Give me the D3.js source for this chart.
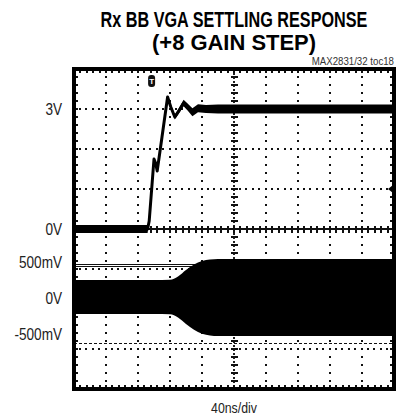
<!DOCTYPE html>
<html lang="en">
<head>
    <meta charset="UTF-8">
    <title>Rx BB VGA Settling Response</title>
    <script src="https://d3js.org/d3.v7.min.js"></script>
    <style>
        body {margin: 0; background: white;}
        text {font-family: "Liberation Sans", Arial, sans-serif; fill: black;}
        .title {font-weight: bold; font-size: 22px;}
        .lbl {font-size: 16px; fill: #222;}
        .crisp {shape-rendering: crispEdges;}
    </style>
</head>
<body>
<div id="chart"></div>
<script>

    // channel 1 (top trace): time in ns, volts, noise half width in volts
    var ch1Time  = [0,   60,  92,  94,  100, 102, 104, 110, 117, 121, 126, 131, 137, 142, 148, 155, 165, 180, 400];
    var ch1Volt  = [0.0, 0.0, 0.0, 0.2, 1.75,1.65,1.45,2.3, 3.3, 3.05,2.8, 2.95,3.15,3.05,2.92,3.02,3.0, 3.0, 3.0];
    var ch1Noise = [0.1, 0.1, 0.1, 0.02,0.02,0.02,0.02,0.02,0.04,0.05,0.06,0.07,0.08,0.09,0.1, 0.1, 0.1, 0.11,0.11];

    // channel 2 (bottom trace): envelope of the baseband signal in mV
    var ch2Time  = [0,    100,  120,  130,  140,  150,  160,  170,  180,  400];
    var ch2Upper = [250,  250,  255,  300,  390,  465,  515,  535,  542,  542];
    var ch2Lower = [-222, -222, -225, -270, -360, -440, -495, -520, -528, -528];

    var ch1Labels = [{v: 3, text: "3V"}, {v: 0, text: "0V"}];
    var ch2Labels = [{v: 500, text: "500mV"}, {v: 0, text: "0V"}, {v: -500, text: "-500mV"}];

    var refSolid = 470,    // reference lines on channel 2 (mV)
        refDashed = -630,
        triggerTime = 97,
        markerVolt = 1;

    var W = 401, H = 419;
    var plot = {left: 74, top: 69, width: 320, height: 320};

    var x = d3.scaleLinear().domain([0, 400]).range([plot.left, plot.left + plot.width]);
    var y1 = d3.scaleLinear().domain([-4, 4]).range([plot.top + plot.height, plot.top]);
    var y2 = d3.scaleLinear().domain([-500, 500]).range([334, 262]);

    var svg = d3.select("#chart").append("svg")
        .attr("width", W)
        .attr("height", H);

    // squeeze a text horizontally so it looks like the condensed face of the original
    function narrow(sel, cx, cy, k, anchor) {
        sel.attr("x", 0).attr("y", 0)
            .attr("text-anchor", anchor || "middle")
            .attr("transform", "translate(" + cx + "," + cy + ") scale(" + k + ",1)");
        return sel;
    }

    // title
    var t1 = svg.append("text").attr("class", "title").text("Rx BB VGA SETTLING RESPONSE");
    narrow(t1, 234, 27, 267 / t1.node().getComputedTextLength());
    var t2 = svg.append("text").attr("class", "title").text("(+8 GAIN STEP)");
    narrow(t2, 234, 50, 164 / t2.node().getComputedTextLength());

    var src = svg.append("text")
        .style("font-size", "11px")
        .style("fill", "#333")
        .text("MAX2831/32 toc18");
    narrow(src, 394, 65, 0.88, "end");

    var g = svg.append("g");

    // graticule - dotted lines every division, dots on every minor division
    var xDiv = d3.range(1, 10).map(function(i) { return i * 40; });
    var yDiv = d3.range(-3, 4);

    g.selectAll(".vgrid").data(xDiv.filter(function(d) { return d != 200; }))
        .enter().append("line").attr("class", "crisp")
        .attr("x1", function(d) { return Math.round(x(d)); }).attr("x2", function(d) { return Math.round(x(d)); })
        .attr("y1", plot.top + 7).attr("y2", plot.top + plot.height)
        .attr("stroke", "#111").attr("stroke-width", 2)
        .attr("stroke-dasharray", "2,6");

    g.selectAll(".hgrid").data(yDiv.filter(function(d) { return d != 0; }))
        .enter().append("line").attr("class", "crisp")
        .attr("x1", plot.left + 5).attr("x2", plot.left + plot.width)
        .attr("y1", function(d) { return Math.round(y1(d)); }).attr("y2", function(d) { return Math.round(y1(d)); })
        .attr("stroke", "#111").attr("stroke-width", 2)
        .attr("stroke-dasharray", "2,4.4");

    // center axes with minor ticks
    var cx = x(200), cy = y1(0);
    g.append("line").attr("class", "crisp")
        .attr("x1", cx).attr("x2", cx).attr("y1", plot.top).attr("y2", plot.top + plot.height)
        .attr("stroke", "#222").attr("stroke-width", 1.5).attr("stroke-dasharray", "2,2");
    g.append("line").attr("class", "crisp")
        .attr("x1", plot.left).attr("x2", plot.left + plot.width).attr("y1", cy).attr("y2", cy)
        .attr("stroke", "#111").attr("stroke-width", 2);

    var minorX = d3.range(0, 51).map(function(i) { return i * 8; });
    var minorY = d3.range(-20, 21).map(function(i) { return i * 0.2; });

    g.selectAll(".tx").data(minorX).enter().append("line").attr("class", "crisp")
        .attr("x1", function(d) { return Math.round(x(d)); }).attr("x2", function(d) { return Math.round(x(d)); })
        .attr("y1", cy - 3).attr("y2", cy + 4)
        .attr("stroke", "#111").attr("stroke-width", 1.5);
    g.selectAll(".ty").data(minorY).enter().append("line").attr("class", "crisp")
        .attr("x1", cx - 3).attr("x2", cx + 4)
        .attr("y1", function(d) { return y1(d); }).attr("y2", function(d) { return y1(d); })
        .attr("stroke", "#111").attr("stroke-width", 1.5);

    // ticks along the frame
    g.selectAll(".ft").data(minorX).enter().append("line").attr("class", "crisp")
        .attr("x1", function(d) { return Math.round(x(d)); }).attr("x2", function(d) { return Math.round(x(d)); })
        .attr("y1", plot.top).attr("y2", plot.top + 4)
        .attr("stroke", "#111").attr("stroke-width", 1.5);
    g.selectAll(".fb").data(minorX).enter().append("line").attr("class", "crisp")
        .attr("x1", function(d) { return Math.round(x(d)); }).attr("x2", function(d) { return Math.round(x(d)); })
        .attr("y1", plot.top + plot.height - 4).attr("y2", plot.top + plot.height)
        .attr("stroke", "#111").attr("stroke-width", 1.5);
    g.selectAll(".fl").data(minorY).enter().append("line").attr("class", "crisp")
        .attr("x1", plot.left).attr("x2", plot.left + 4)
        .attr("y1", function(d) { return y1(d); }).attr("y2", function(d) { return y1(d); })
        .attr("stroke", "#111").attr("stroke-width", 1.5);
    g.selectAll(".fr").data(minorY).enter().append("line").attr("class", "crisp")
        .attr("x1", plot.left + plot.width - 4).attr("x2", plot.left + plot.width)
        .attr("y1", function(d) { return y1(d); }).attr("y2", function(d) { return y1(d); })
        .attr("stroke", "#111").attr("stroke-width", 1.5);

    // channel 2 reference lines
    g.append("line").attr("class", "crisp")
        .attr("x1", plot.left).attr("x2", plot.left + plot.width)
        .attr("y1", y2(refSolid)).attr("y2", y2(refSolid))
        .attr("stroke", "#111").attr("stroke-width", 1);
    g.append("line").attr("class", "crisp")
        .attr("x1", plot.left).attr("x2", plot.left + plot.width)
        .attr("y1", y2(refSolid) + 2).attr("y2", y2(refSolid) + 2)
        .attr("stroke", "#111").attr("stroke-width", 1);
    g.append("line").attr("class", "crisp")
        .attr("x1", plot.left).attr("x2", plot.left + plot.width)
        .attr("y1", y2(refDashed)).attr("y2", y2(refDashed))
        .attr("stroke", "#111").attr("stroke-width", 1.5)
        .attr("stroke-dasharray", "3,2");

    // channel 2 envelope
    var ch2 = ch2Time.map(function(t, i) { return {t: t, hi: ch2Upper[i], lo: ch2Lower[i]}; });
    g.append("path").datum(ch2)
        .attr("fill", "black")
        .attr("d", d3.area()
            .x(function(d) { return x(d.t); })
            .y0(function(d) { return y2(d.lo); })
            .y1(function(d) { return y2(d.hi); })
            .curve(d3.curveMonotoneX));

    // channel 1 trace
    var ch1 = ch1Time.map(function(t, i) { return {t: t, v: ch1Volt[i], n: ch1Noise[i]}; });
    g.append("path").datum(ch1)
        .attr("fill", "black")
        .attr("d", d3.area()
            .x(function(d) { return x(d.t); })
            .y0(function(d) { return y1(d.v - d.n); })
            .y1(function(d) { return y1(d.v + d.n); }));
    g.append("path").datum(ch1)
        .attr("fill", "none").attr("stroke", "black").attr("stroke-width", 3)
        .attr("stroke-linejoin", "round")
        .attr("d", d3.line()
            .x(function(d) { return x(d.t); })
            .y(function(d) { return y1(d.v); }));

    // frame
    g.append("rect").attr("class", "crisp")
        .attr("x", plot.left).attr("y", plot.top)
        .attr("width", plot.width).attr("height", plot.height)
        .attr("fill", "none").attr("stroke", "black").attr("stroke-width", 3.5);

    // trigger marker
    var tg = g.append("g").attr("transform", "translate(" + x(triggerTime) + "," + (plot.top + 12) + ")");
    tg.append("rect").attr("x", -3.5).attr("y", -6).attr("width", 7).attr("height", 12)
        .attr("rx", 3).attr("fill", "#111");
    tg.append("text").attr("text-anchor", "middle").attr("y", 3)
        .style("font-size", "8px").style("font-weight", "bold").style("fill", "white")
        .text("T");

    // level marker on the right edge
    g.append("path")
        .attr("transform", "translate(" + (plot.left + plot.width - 1) + "," + y1(markerVolt) + ")")
        .attr("d", "M-5,0 L0,-4 L0,4 Z")
        .attr("fill", "black");

    // axis labels
    svg.selectAll(".l1").data(ch1Labels).enter().append("text")
        .attr("class", "lbl")
        .text(function(d) { return d.text; })
        .each(function(d) { narrow(d3.select(this), 62, y1(d.v) + 6, 0.85, "end"); });
    svg.selectAll(".l2").data(ch2Labels).enter().append("text")
        .attr("class", "lbl")
        .text(function(d) { return d.text; })
        .each(function(d) { narrow(d3.select(this), 62, y2(d.v) + 6, 0.85, "end"); });

    var xl = svg.append("text").attr("class", "lbl")
        .style("font-size", "14px")
        .text("40ns/div");
    narrow(xl, 234, 413, 0.88);

</script>
</body>
</html>
